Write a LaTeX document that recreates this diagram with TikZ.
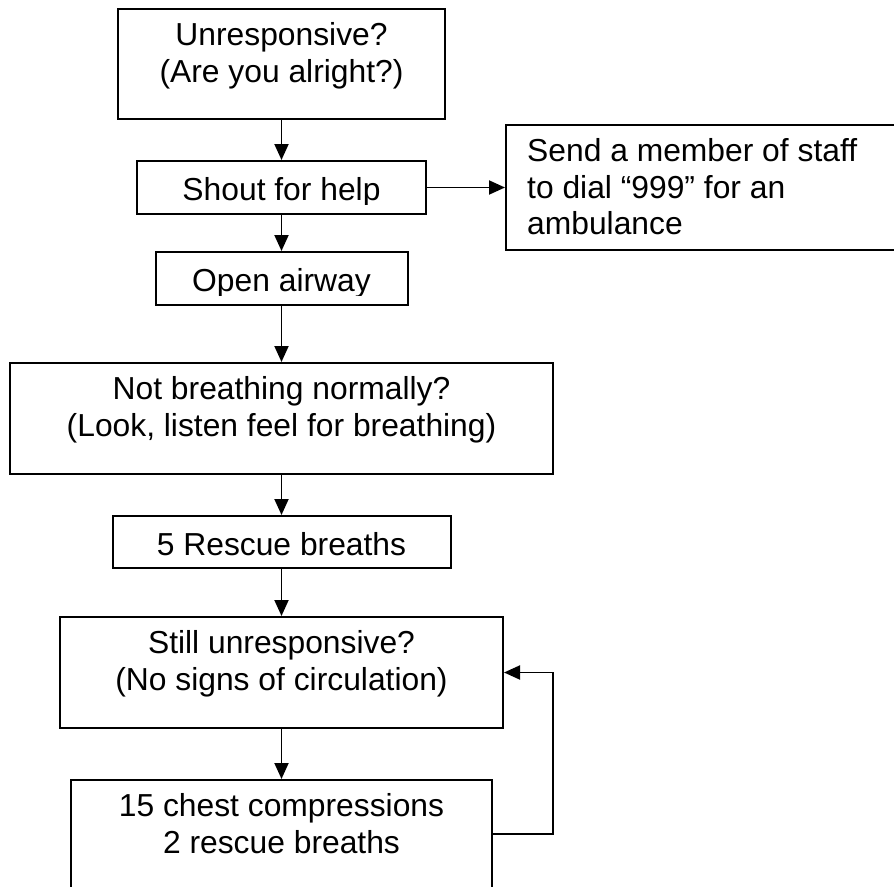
\documentclass[tikz,border=0pt]{standalone}
\usepackage{fontspec}
\setmainfont{Liberation Sans}
\usetikzlibrary{arrows.meta}

\begin{document}
\begin{tikzpicture}[x=1pt,y=-1pt,
  stepbox/.style={draw,line width=2pt,inner sep=0pt},
  boxtext/.style={font=\fontsize{31.8}{36.5}\selectfont,inner sep=0pt,anchor=north,
    align=center,execute at begin node=\strut},
  flow/.style={line width=1.9pt,-{Triangle[length=16pt,width=14pt]}}]
  \useasboundingbox (0,0) rectangle (894,886);
  \clip (0,0) rectangle (894,886);
  % boxes
  \node[stepbox,minimum width=327pt,minimum height=110pt] (unresp) at (281.5,64) {};
  \node[stepbox,minimum width=289pt,minimum height=53pt] (shout) at (281.5,187.5) {};
  \node[stepbox,minimum width=252pt,minimum height=53pt] (airway) at (281.5,278.5) {};
  \node[stepbox,minimum width=404pt,minimum height=125pt] (staff) at (708,187.5) {};
  \node[stepbox,minimum width=543pt,minimum height=111pt] (breath) at (281.5,418.5) {};
  \node[stepbox,minimum width=338pt,minimum height=52pt] (rescue) at (281.5,542) {};
  \node[stepbox,minimum width=443pt,minimum height=111pt] (still) at (281.5,672.5) {};
  \node[stepbox,minimum width=421pt,minimum height=108pt] (chest) at (281.5,834) {};
  % texts
  \node[boxtext] (unresp-txt) at ([yshift=-14.45pt]unresp.north) {Unresponsive?\\(Are you alright?)};
  \begin{scope}
    \clip (shout.north west) rectangle ([yshift=11pt]shout.south east);
    \node[boxtext] (shout-txt) at ([yshift=-14.45pt]shout.north) {Shout for help};
  \end{scope}
  \begin{scope}
    \clip (airway.north west) rectangle ([yshift=11pt]airway.south east);
    \node[boxtext] (airway-txt) at ([yshift=-14.45pt]airway.north) {Open airway};
  \end{scope}
  \node[boxtext,anchor=north west,align=left] (staff-txt) at ([xshift=22pt,yshift=-14.45pt]staff.north west)
    {Send a member of staff\\to dial “999” for an\\ambulance};
  \node[boxtext] (breath-txt) at ([yshift=-14.45pt]breath.north) {Not breathing normally?\\(Look, listen feel for breathing)};
  \node[boxtext] (rescue-txt) at ([yshift=-14.45pt]rescue.north) {5 Rescue breaths};
  \node[boxtext] (still-txt) at ([yshift=-14.45pt]still.north) {Still unresponsive?\\(No signs of circulation)};
  \node[boxtext] (chest-txt) at ([yshift=-14.45pt]chest.north) {15 chest compressions\\2 rescue breaths};
  % connectors
  \foreach \a/\b in {unresp/shout,shout/airway,airway/breath,breath/rescue,rescue/still,still/chest}{
    \draw[flow] (\a) -- (\b);
  }
  \draw[flow] (shout.east) -- (staff.west);
  \draw[flow] (chest.east) -- ++(60,0) |- (still.east);
\end{tikzpicture}
\end{document}
